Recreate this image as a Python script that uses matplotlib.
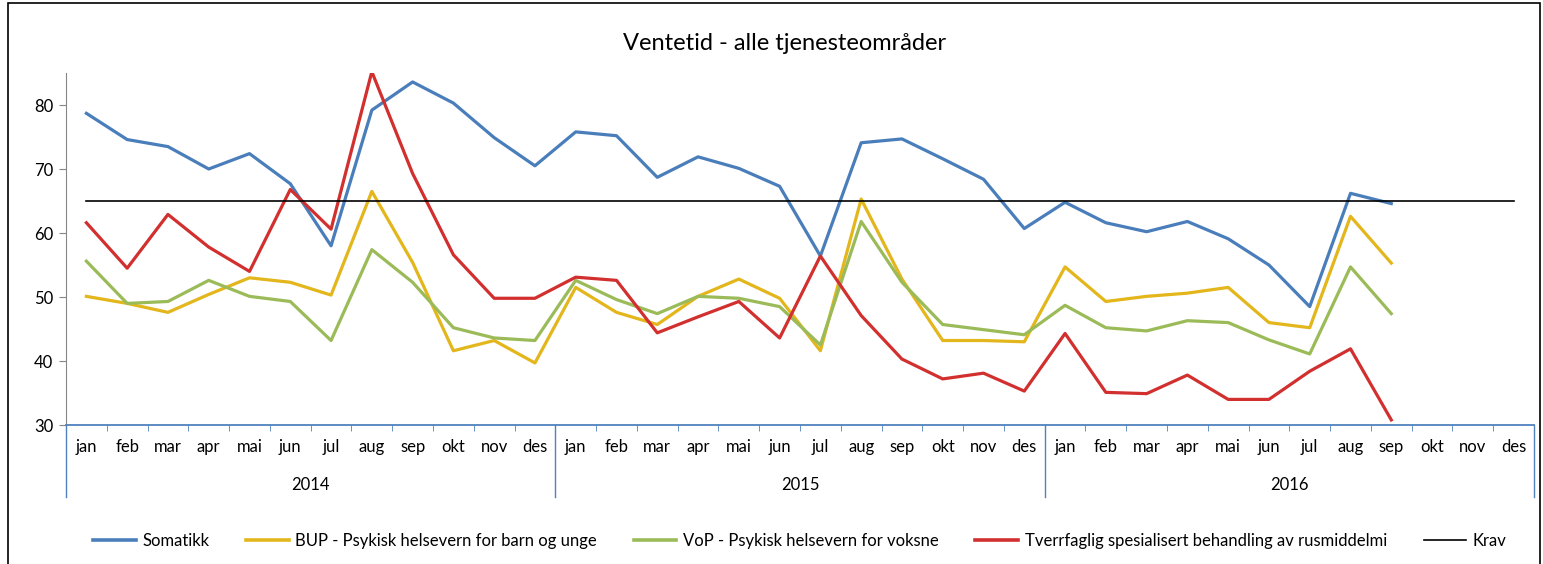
import numpy as np
import matplotlib
matplotlib.use("Agg")
import matplotlib.pyplot as plt
from matplotlib.patches import Rectangle
from matplotlib.lines import Line2D

plt.rcParams['font.family'] = ['Lato', 'DejaVu Sans']

# data
months = ['jan', 'feb', 'mar', 'apr', 'mai', 'jun', 'jul', 'aug', 'sep', 'okt', 'nov', 'des']
years = ['2014', '2015', '2016']

somatikk = [78.7, 74.6, 73.5, 70.0, 72.4, 67.7, 58.0, 79.2, 83.6, 80.3, 74.9, 70.5,
            75.8, 75.2, 68.7, 71.9, 70.1, 67.3, 56.4, 74.1, 74.7, 71.6, 68.4, 60.7,
            64.8, 61.6, 60.2, 61.8, 59.1, 55.0, 48.5, 66.2, 64.6]
bup = [50.1, 49.0, 47.6, 50.4, 53.0, 52.3, 50.3, 66.5, 55.4, 41.6, 43.2, 39.7,
       51.5, 47.6, 45.7, 50.1, 52.8, 49.8, 41.6, 65.3, 52.8, 43.2, 43.2, 43.0,
       54.7, 49.3, 50.1, 50.6, 51.5, 46.0, 45.2, 62.6, 55.3]
vop = [55.6, 49.0, 49.3, 52.6, 50.1, 49.3, 43.2, 57.4, 52.3, 45.2, 43.6, 43.2,
       52.6, 49.6, 47.4, 50.1, 49.8, 48.5, 42.5, 61.8, 52.3, 45.7, 44.9, 44.1,
       48.7, 45.2, 44.7, 46.3, 46.0, 43.3, 41.1, 54.7, 47.4]
tsb = [61.6, 54.5, 62.9, 57.8, 54.0, 66.8, 60.6, 85.2, 69.3, 56.6, 49.8, 49.8,
       53.1, 52.6, 44.4, 46.9, 49.3, 43.6, 56.4, 47.1, 40.3, 37.2, 38.1, 35.3,
       44.3, 35.1, 34.9, 37.8, 34.0, 34.0, 38.4, 41.9, 30.8]
krav = [65] * 36

series = [
    ('Somatikk', somatikk, '#4A7EBB'),
    ('BUP - Psykisk helsevern for barn og unge', bup, '#E3B61C'),
    ('VoP - Psykisk helsevern for voksne', vop, '#9BBB59'),
    ('Tverrfaglig spesialisert behandling av rusmiddelmi', tsb, '#D1302F'),
]

W, H = 1543, 564
fig = plt.figure(figsize=(W / 100, H / 100), dpi=100)

# chart frame
fig.patches.append(Rectangle((8 / W, -0.1), (1540 - 8) / W, 1.1 - 3 / H,
                             transform=fig.transFigure, fill=False,
                             edgecolor='black', linewidth=1.2))

x0, x1, ytop, ybot = 66, 1534, 73, 425
ax = fig.add_axes([x0 / W, 1 - ybot / H, (x1 - x0) / W, (ybot - ytop) / H])

for name, vals, col in series:
    ax.plot(np.arange(len(vals)), vals, color=col, linewidth=2.3, label=name)
ax.plot(np.arange(len(krav)), krav, color='black', linewidth=1.2, label='Krav')

ax.set_xlim(-0.5, 35.5)
ax.set_ylim(30, 85)
ax.set_yticks([30, 40, 50, 60, 70, 80])
ax.tick_params(axis='y', length=5, color='#868686', labelsize=12, pad=4)

for s in ['top', 'right']:
    ax.spines[s].set_visible(False)
ax.spines['left'].set_color('#868686')
ax.spines['bottom'].set_color('#4F81BD')
ax.spines['bottom'].set_linewidth(1.3)

ax.set_xticks(np.arange(36))
ax.set_xticklabels(months * 3, fontsize=12)
ax.tick_params(axis='x', which='major', length=0, pad=10)
ax.set_xticks(np.arange(-0.5, 36, 1), minor=True)
ax.tick_params(axis='x', which='minor', length=4, color='#4F81BD', direction='out')

# year groups
depth = (497 - ybot) / (ybot - ytop)
trans = ax.get_xaxis_transform()
for b in [-0.5, 11.5, 23.5, 35.5]:
    ax.plot([b, b], [0, -depth], color='#4F81BD', linewidth=1.0,
            transform=trans, clip_on=False)
for i, yr in enumerate(years):
    ax.text(12 * i + 5.5, -(485 - ybot) / (ybot - ytop), yr, transform=trans,
            ha='center', va='center', fontsize=12)

fig.text(785 / W, 1 - 43 / H, 'Ventetid - alle tjenesteområder',
         ha='center', va='center', fontsize=17)

handles = [Line2D([], [], color=c, linewidth=2.6) for _, _, c in series]
handles.append(Line2D([], [], color='black', linewidth=1.2))
labels = [n for n, _, _ in series] + ['Krav']
fig.legend(handles, labels, loc='center', bbox_to_anchor=(800 / W, 1 - 541 / H),
           ncol=5, frameon=False, fontsize=12, handlelength=2.55,
           columnspacing=2.2, handletextpad=0.4)

fig.savefig('out.png', dpi=100)
